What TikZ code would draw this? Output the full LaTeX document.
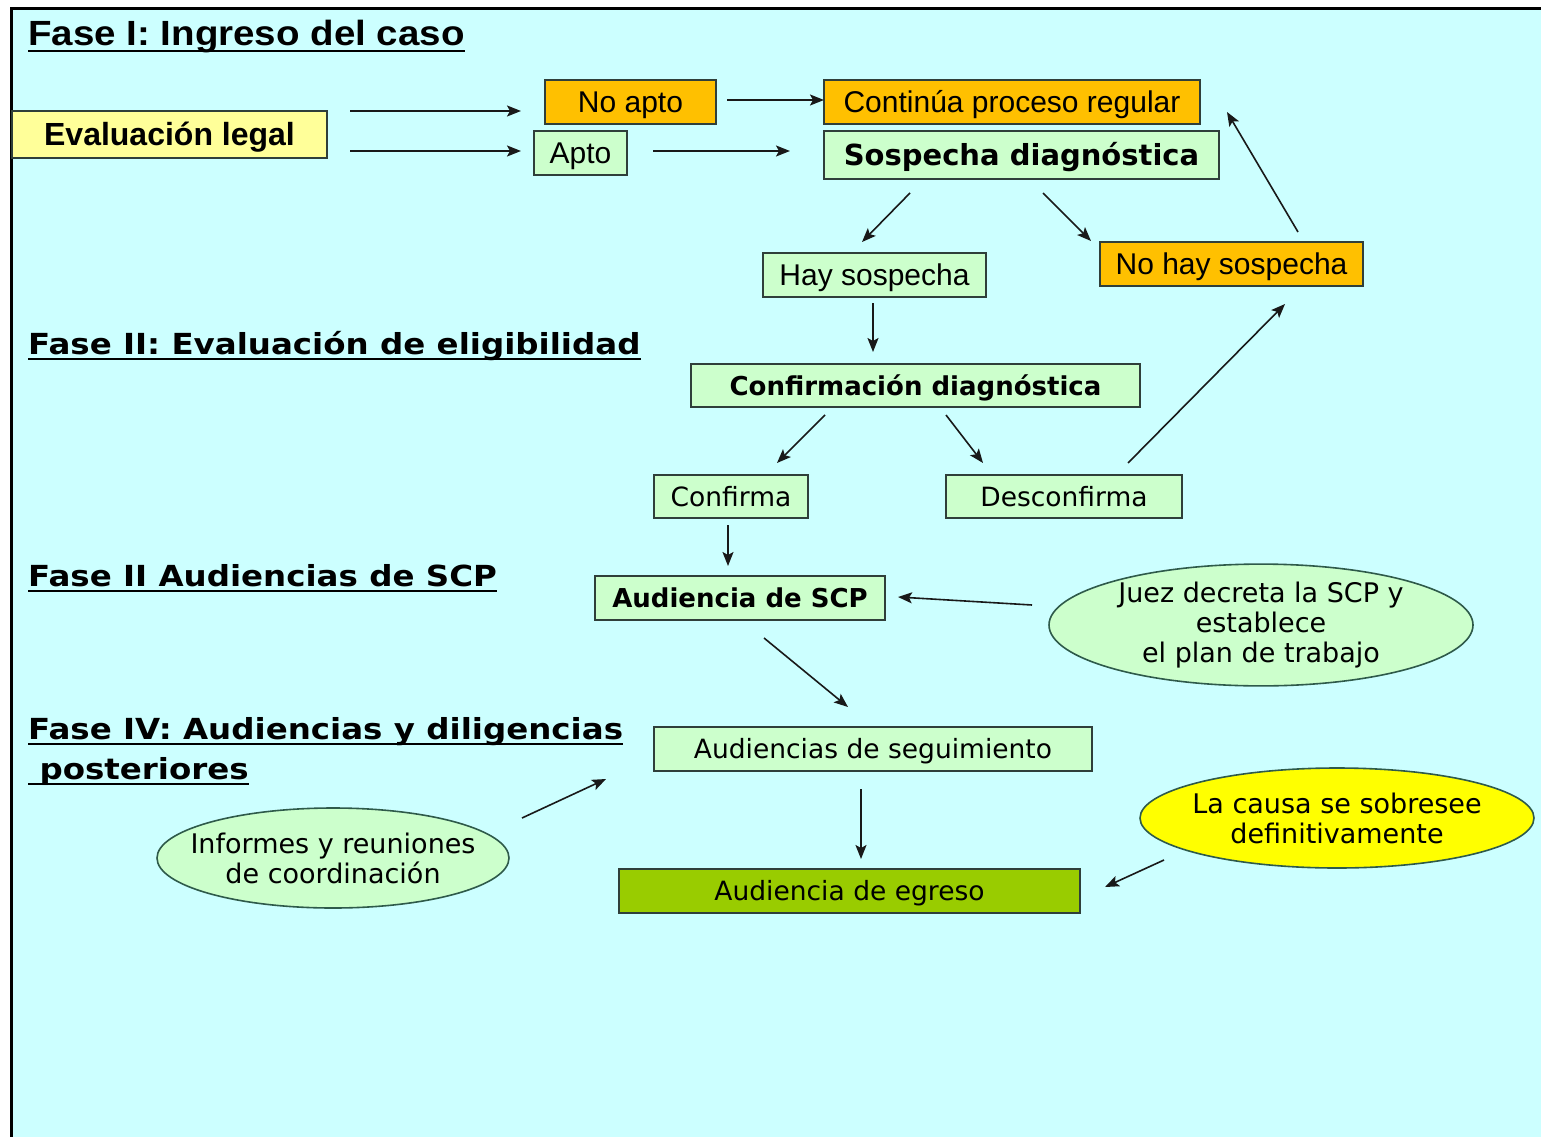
\documentclass[tikz,border=0pt]{standalone}
\usepackage{fontspec}
\setmainfont{Liberation Sans}
\newfontfamily\vfont{DejaVu Sans}
\newfontfamily\hfont[FakeStretch=1.12]{DejaVu Sans}
\newfontfamily\afont[FakeStretch=1.1]{Liberation Sans}
\usetikzlibrary{shapes.geometric, arrows.meta}
\definecolor{fondo}{HTML}{CCFFFF}
\definecolor{amarillito}{HTML}{FFFF99}
\definecolor{naranja}{HTML}{FFC000}
\definecolor{verdecito}{HTML}{CCFFCC}
\definecolor{verdeegreso}{HTML}{99CC00}
\definecolor{amarillo}{HTML}{FFFF00}
\definecolor{borde}{HTML}{2F3F3A}
\definecolor{bordeoval}{HTML}{2E5A4A}
\tikzset{
  caja/.style={draw=borde, line width=1.6pt, minimum height=44pt, inner sep=0pt,
    text height=21.5pt, text depth=0pt, font=\fontsize{30}{34}\selectfont},
  cajav/.style={caja, text height=19.3pt, font=\vfont\fontsize{26.5}{30}\selectfont},
  cajavb/.style={caja, text height=19pt, font=\vfont\bfseries\fontsize{26}{30}\selectfont},
  oval/.style={ellipse, draw=bordeoval, line width=1.6pt, inner xsep=-25pt, inner ysep=0pt, align=center,
    font=\vfont\fontsize{27}{30}\selectfont},
  fase/.style={anchor=base west, inner sep=0pt, font=\hfont\bfseries\fontsize{29}{36}\selectfont},
  subrayado/.style={line width=2.2pt},
  arr/.style={-{Stealth[length=14pt,width=11pt,inset=3pt]}, line width=1.6pt, draw=black!90}
}
\begin{document}
\begin{tikzpicture}[x=1pt,y=-1pt]
  \useasboundingbox (0,0) rectangle (1541,1137);
  \fill[white] (0,0) rectangle (1541,1137);
  \fill[fondo] (12,10) rectangle (1541,1137);
  \draw[line width=3pt] (11.5,1137) -- (11.5,9) -- (1541,9);

  \node[fase, font=\afont\bfseries\fontsize{35}{40}\selectfont] (fase1) at (28,46) {Fase I: Ingreso del caso};
  \node[fase] (fase2) at (28,354) {Fase II: Evaluación de eligibilidad};
  \node[fase] (fase3) at (28,586) {Fase II Audiencias de SCP};
  \node[fase] (fase4) at (28,739) {Fase IV: Audiencias y diligencias};
  \node[fase] (fase4b) at (28,779) {\ posteriores};
  \foreach \f in {fase1,fase2,fase3,fase4,fase4b}
    \draw[subrayado] ([yshift=-5pt]\f.base west) -- ([yshift=-5pt]\f.base east);

  \node[caja, fill=amarillito, minimum width=315pt, minimum height=47pt, text height=23pt, font=\bfseries\fontsize{32}{36}\selectfont] (eval) at (169.5,134.5) {Evaluación legal};
  \node[caja, fill=naranja, minimum width=171pt] (noapto) at (630.5,102) {No apto};
  \node[caja, fill=verdecito, minimum width=93pt] (apto) at (580.5,153) {Apto};
  \node[caja, fill=naranja, minimum width=376pt] (continua) at (1012,102) {Continúa proceso regular};
  \node[caja, fill=verdecito, minimum width=395pt, minimum height=48pt, text height=21pt, font=\vfont\bfseries\fontsize{29}{33}\selectfont] (sospecha) at (1021.5,155) {Sospecha diagnóstica};
  \node[caja, fill=verdecito, minimum width=223pt] (hay) at (874.5,275) {Hay sospecha};
  \node[caja, fill=naranja, minimum width=263pt] (nohay) at (1231.5,264) {No hay sospecha};
  \node[cajavb, fill=verdecito, minimum width=449pt, minimum height=43pt] (confdiag) at (915.5,385.5) {Confirmación diagnóstica};
  \node[cajav, fill=verdecito, minimum width=154pt, minimum height=43pt] (confirma) at (731,496.5) {Confirma};
  \node[cajav, fill=verdecito, minimum width=236pt, minimum height=43pt] (desconf) at (1064,496.5) {Desconfirma};
  \node[cajavb, fill=verdecito, minimum width=290pt] (audscp) at (740,598) {Audiencia de SCP};
  \node[oval, fill=verdecito, minimum width=424pt, minimum height=117pt] (juez) at (1261,625) {Juez decreta la SCP y\\ establece\\ el plan de trabajo};
  \node[cajav, fill=verdecito, minimum width=438pt] (seguim) at (873,749) {Audiencias de seguimiento};
  \node[oval, fill=verdecito, minimum width=352pt, minimum height=100pt] (informes) at (333,858) {Informes y reuniones\\ de coordinación};
  \node[oval, fill=amarillo, minimum width=394pt, minimum height=100pt] (causa) at (1337,818) {La causa se sobresee\\ definitivamente};
  \node[cajav, fill=verdeegreso, minimum width=461pt] (egreso) at (849.5,891) {Audiencia de egreso};

  \draw[arr] ([shift={(180.5,-23.5)}]eval.center) -- ([shift={(-109.5,9)}]noapto.center);
  \draw[arr] ([shift={(180.5,16.5)}]eval.center) -- ([shift={(-59.5,-2)}]apto.center);
  \draw[arr] ([shift={(96.5,-2)}]noapto.center) -- ([shift={(-188,-2)}]continua.center);
  \draw[arr] ([shift={(72.5,-2)}]apto.center) -- ([shift={(-231.5,-4)}]sospecha.center);
  \draw[arr] ([shift={(-111.5,38)}]sospecha.center) -- ([shift={(-12.5,-33)}]hay.center);
  \draw[arr] ([shift={(21.5,38)}]sospecha.center) -- ([shift={(-140.5,-23)}]nohay.center);
  \draw[arr] ([shift={(66.5,-32)}]nohay.center) -- ([shift={(215,10)}]continua.center);
  \draw[arr] ([shift={(-1.5,28)}]hay.center) -- ([shift={(-42.5,-33.5)}]confdiag.center);
  \draw[arr] ([shift={(-90.5,29.5)}]confdiag.center) -- ([shift={(46,-33.5)}]confirma.center);
  \draw[arr] ([shift={(30.5,29.5)}]confdiag.center) -- ([shift={(-81,-33.5)}]desconf.center);
  \draw[arr] ([shift={(64,-33.5)}]desconf.center) -- ([shift={(53.5,40)}]nohay.center);
  \draw[arr] ([shift={(-3,28.5)}]confirma.center) -- ([shift={(-12,-32)}]audscp.center);
  \draw[arr] ([shift={(-229,-20)}]juez.center) -- ([shift={(158,-1)}]audscp.center);
  \draw[arr] ([shift={(24,40)}]audscp.center) -- ([shift={(-25,-42)}]seguim.center);
  \draw[arr] ([shift={(189,-40)}]informes.center) -- ([shift={(-267,30)}]seguim.center);
  \draw[arr] ([shift={(-12,40)}]seguim.center) -- ([shift={(11.5,-32)}]egreso.center);
  \draw[arr] ([shift={(-173,42)}]causa.center) -- ([shift={(255.5,-4)}]egreso.center);
\end{tikzpicture}
\end{document}
